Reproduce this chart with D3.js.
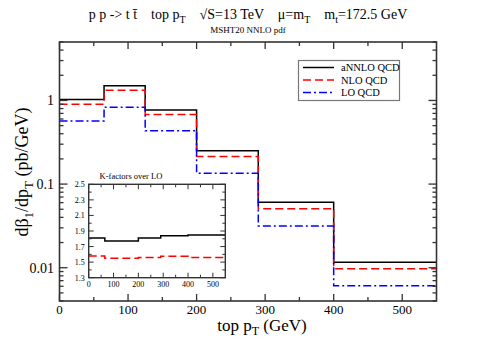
<!DOCTYPE html>
<html><head><meta charset="utf-8">
<script src="https://cdn.jsdelivr.net/npm/d3@7"></script>
<style>body{margin:0;background:#fff}svg{display:block}text{font-family:"Liberation Serif","DejaVu Serif",serif}</style>
</head><body>
<svg id="c" width="480" height="339"></svg>
<script>
// ---- data ----
const binEdges = [0, 65, 125, 200, 290, 400, 550];
const annlo = [1.03, 1.50, 0.77, 0.25, 0.0605, 0.0116];
const nlo   = [0.90, 1.32, 0.68, 0.214, 0.0507, 0.0097];
const lo    = [0.567, 0.83, 0.434, 0.135, 0.0315, 0.0061];
const kAnnlo = [1.81, 1.77, 1.77, 1.81, 1.84, 1.85];
const kNlo   = [1.58, 1.55, 1.55, 1.56, 1.575, 1.56];
const seriesNames = ["aNNLO QCD", "NLO QCD", "LO QCD"];
const xTicks = [0, 100, 200, 300, 400, 500];
const yTicks = [1, 0.1, 0.01];
const insetYTicks = [1.3, 1.5, 1.7, 1.9, 2.1, 2.3, 2.5];

const svg = d3.select("#c");
const L = 59.5, R = 436.5, T = 42, B = 301;
const x = d3.scaleLinear().domain([0, 550]).range([L, R]);
const y = d3.scaleLog().domain([0.004, 5]).range([B, T]);
const axisCol = "#333";

function steps(vals){ const pts = vals.map((v,i)=>[binEdges[i], v]); pts.push([binEdges[binEdges.length-1], vals[vals.length-1]]); return pts; }

const styles = [
  {col:"#000", dash:null, w:1.5},
  {col:"#ff0000", dash:"8,4", w:1.5},
  {col:"#0000ff", dash:"8,3,2,3", w:1.5}
];
const mainG = svg.append("g");
[annlo, nlo, lo].forEach((vals, i) => {
  const ln = d3.line().x(d=>x(d[0])).y(d=>y(d[1])).curve(d3.curveStepAfter);
  mainG.append("path").attr("d", ln(steps(vals))).attr("fill","none")
    .attr("stroke", styles[i].col).attr("stroke-width", styles[i].w)
    .attr("stroke-dasharray", styles[i].dash);
});

// axes (ticks inward, mirrored)
const ax = svg.append("g");
const xMinor = d3.range(50, 550, 100);
function tickLines(g, vals, scale, len, orient){
  vals.forEach(v=>{
    const p = scale(v);
    if(orient==="bottom") g.append("line").attr("x1",p).attr("x2",p).attr("y1",B).attr("y2",B-len);
    if(orient==="top") g.append("line").attr("x1",p).attr("x2",p).attr("y1",T).attr("y2",T+len);
    if(orient==="left") g.append("line").attr("x1",L).attr("x2",L+len).attr("y1",p).attr("y2",p);
    if(orient==="right") g.append("line").attr("x1",R).attr("x2",R-len).attr("y1",p).attr("y2",p);
  });
}
ax.attr("stroke", axisCol).attr("stroke-width", 1.3);
tickLines(ax, xTicks, x, 7, "bottom"); tickLines(ax, xTicks, x, 7, "top");
tickLines(ax, xMinor, x, 4, "bottom"); tickLines(ax, xMinor, x, 4, "top");
const yMinor = y.ticks().filter(v=>!yTicks.some(t=>Math.abs(t-v)/t<1e-6));
tickLines(ax, yTicks, y, 8, "left"); tickLines(ax, yTicks, y, 8, "right");
tickLines(ax, yMinor, y, 4, "left"); tickLines(ax, yMinor, y, 4, "right");
svg.append("rect").attr("x",L).attr("y",T).attr("width",R-L).attr("height",B-T)
  .attr("fill","none").attr("stroke",axisCol).attr("stroke-width",1.6);

svg.append("g").selectAll("text").data(xTicks).join("text")
  .attr("x", d=>x(d)).attr("y", 314).attr("text-anchor","middle")
  .attr("font-size", 13).text(d=>d);
svg.append("g").selectAll("text").data(yTicks).join("text")
  .attr("x", 54).attr("y", d=>y(d)+5).attr("text-anchor","end")
  .attr("font-size", 14).text(d=>d);

// axis titles
const xt = svg.append("text").attr("x", 262).attr("y", 331).attr("text-anchor","middle").attr("font-size", 17);
xt.append("tspan").text("top p");
xt.append("tspan").attr("font-size", 12).attr("dy", 4).text("T");
xt.append("tspan").attr("dy", -4).text(" (GeV)");

const yt = svg.append("text").attr("transform","translate(28,172) rotate(-90)").attr("text-anchor","middle").attr("font-size", 18);
yt.append("tspan").text("dβ");
yt.append("tspan").attr("font-size", 13).attr("dy", 5).text("1");
yt.append("tspan").attr("dy", -5).text("/dp");
yt.append("tspan").attr("font-size", 13).attr("dy", 5).text("T");
yt.append("tspan").attr("dy", -5).text(" (pb/GeV)");

// title
const tt = svg.append("text").attr("x", 248).attr("y", 19).attr("text-anchor","middle").attr("font-size", 14).style("white-space","pre");
tt.append("tspan").text("p p -> t t\u0304    top p");
tt.append("tspan").attr("font-size", 10).attr("dy", 4).text("T");
tt.append("tspan").attr("dy", -4).text("    \u221AS=13 TeV    \u03BC=m");
tt.append("tspan").attr("font-size", 10).attr("dy", 4).text("T");
tt.append("tspan").attr("dy", -4).text("    m");
tt.append("tspan").attr("font-size", 10).attr("dy", 4).text("t");
tt.append("tspan").attr("dy", -4).text("=172.5 GeV");
svg.append("text").attr("x", 248).attr("y", 33).attr("text-anchor","middle").attr("font-size", 9).text("MSHT20 NNLO pdf");

// legend
const lg = svg.append("g");
lg.append("rect").attr("x", 298.5).attr("y", 60.5).attr("width", 101).attr("height", 40)
  .attr("fill","#fff").attr("stroke","#777").attr("stroke-width",1.2);
seriesNames.forEach((n,i)=>{
  const yy = 67.5 + i*12.5;
  lg.append("line").attr("x1", 303).attr("x2", 334).attr("y1", yy).attr("y2", yy)
    .attr("stroke", styles[i].col).attr("stroke-width", 1.5).attr("stroke-dasharray", styles[i].dash);
  lg.append("text").attr("x", 341).attr("y", yy+3.5).attr("font-size", 10.5).text(n);
});

// inset
const iL = 88.7, iR = 225.3, iT = 184.3, iB = 277.7;
const xi = d3.scaleLinear().domain([0, 550]).range([iL, iR]);
const yi = d3.scaleLinear().domain([1.3, 2.5]).range([iB, iT]);
const ig = svg.append("g");
ig.append("rect").attr("x", iL).attr("y", iT).attr("width", iR-iL).attr("height", iB-iT).attr("fill","#fff");
[kAnnlo, kNlo].forEach((vals, i)=>{
  const ln = d3.line().x(d=>xi(d[0])).y(d=>yi(d[1])).curve(d3.curveStepAfter);
  ig.append("path").attr("d", ln(steps(vals))).attr("fill","none")
    .attr("stroke", styles[i].col).attr("stroke-width", 1.5).attr("stroke-dasharray", styles[i].dash);
});
const it = ig.append("g").attr("stroke", axisCol).attr("stroke-width", 1);
xTicks.forEach(v=>{ const p = xi(v);
  it.append("line").attr("x1",p).attr("x2",p).attr("y1",iB).attr("y2",iB-5);
  it.append("line").attr("x1",p).attr("x2",p).attr("y1",iT).attr("y2",iT+5); });
xMinor.forEach(v=>{ const p = xi(v);
  it.append("line").attr("x1",p).attr("x2",p).attr("y1",iB).attr("y2",iB-3);
  it.append("line").attr("x1",p).attr("x2",p).attr("y1",iT).attr("y2",iT+3); });
d3.range(1.4, 2.5, 0.2).forEach(v=>{ const p = yi(v);
  it.append("line").attr("x1",iL).attr("x2",iL+3).attr("y1",p).attr("y2",p);
  it.append("line").attr("x1",iR).attr("x2",iR-3).attr("y1",p).attr("y2",p); });
insetYTicks.forEach(v=>{ const p = yi(v);
  it.append("line").attr("x1",iL).attr("x2",iL+5).attr("y1",p).attr("y2",p);
  it.append("line").attr("x1",iR).attr("x2",iR-5).attr("y1",p).attr("y2",p); });
ig.append("rect").attr("x", iL).attr("y", iT).attr("width", iR-iL).attr("height", iB-iT)
  .attr("fill","none").attr("stroke", axisCol).attr("stroke-width", 1.4);
ig.selectAll("text.xl").data(xTicks).join("text").attr("class","xl")
  .attr("x", d=>xi(d)).attr("y", 287).attr("text-anchor","middle").attr("font-size", 8).text(d=>d);
ig.selectAll("text.yl").data(insetYTicks).join("text").attr("class","yl")
  .attr("x", iL-4).attr("y", d=>yi(d)+3).attr("text-anchor","end").attr("font-size", 8).text(d=>d.toFixed(1));
ig.append("text").attr("x", 131).attr("y", 179).attr("text-anchor","middle").attr("font-size", 8.5).text("K-factors over LO");
</script>
</body></html>
